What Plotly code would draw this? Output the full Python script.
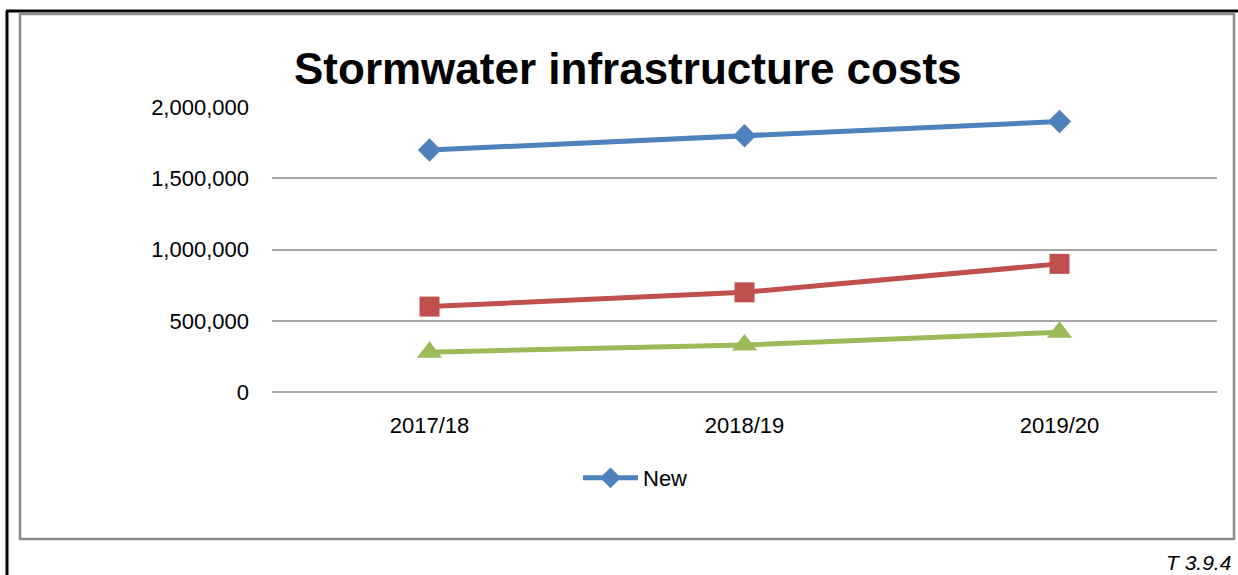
import plotly.graph_objects as go

categories = ["2017/18", "2018/19", "2019/20"]
new_vals = [1700000, 1800000, 1900000]
red_vals = [600000, 700000, 900000]
green_vals = [280000, 330000, 420000]
y_ticks = [0, 500000, 1000000, 1500000, 2000000]
y_ticktext = ["0", "500,000", "1,000,000", "1,500,000", "2,000,000"]

FONT = "Liberation Sans, Arial, sans-serif"
W, H = 1238, 575
L, R, T, B = 272, 21, 107, 183
PW, PH = W - L - R, H - T - B

def px(x):
    return (x - L) / PW

def py(y):
    return (H - B - y) / PH

fig = go.Figure()
fig.add_trace(go.Scatter(x=categories, y=new_vals, name="New", mode="lines+markers",
                         line=dict(color="#4F81BD", width=5),
                         marker=dict(symbol="diamond", size=18, color="#4F81BD")))
fig.add_trace(go.Scatter(x=categories, y=red_vals, name="Renewal", mode="lines+markers",
                         showlegend=False,
                         line=dict(color="#C0504D", width=5),
                         marker=dict(symbol="square", size=20, color="#C0504D")))
fig.add_trace(go.Scatter(x=categories, y=green_vals, name="Repairs", mode="lines+markers",
                         showlegend=False,
                         line=dict(color="#9BBB59", width=5),
                         marker=dict(symbol="triangle-up", size=22, color="#9BBB59")))

shapes = [
    # outer black border (left + top)
    dict(type="line", xref="paper", yref="paper", x0=px(7), x1=px(7), y0=py(11), y1=py(580),
         line=dict(color="black", width=3)),
    dict(type="line", xref="paper", yref="paper", x0=px(6), x1=px(1240), y0=py(11), y1=py(11),
         line=dict(color="black", width=3)),
    # gray chart frame
    dict(type="rect", xref="paper", yref="paper", x0=px(20), x1=px(1234), y0=py(14), y1=py(539),
         line=dict(color="#8c8c8c", width=2.5)),
]

fig.update_layout(
    width=W, height=H,
    margin=dict(l=L, r=R, t=T, b=B, pad=0),
    paper_bgcolor="white", plot_bgcolor="white",
    font=dict(family=FONT, size=22, color="black"),
    shapes=shapes,
    showlegend=True,
    legend=dict(x=px(578), y=py(478), xanchor="left", yanchor="middle",
                font=dict(family=FONT, size=22, color="black"),
                bgcolor="rgba(0,0,0,0)", itemwidth=55),
    xaxis=dict(range=[-0.5, 2.5], showgrid=False, showline=False, zeroline=False,
               ticks="", ticklabelstandoff=18, tickfont=dict(family=FONT, size=22)),
    yaxis=dict(range=[0, 2002000], tickvals=y_ticks, ticktext=y_ticktext,
               showgrid=True, gridcolor="#a6a6a6", gridwidth=2,
               zeroline=True, zerolinecolor="#a6a6a6", zerolinewidth=2,
               showline=False, ticks="", ticklabelstandoff=22,
               tickfont=dict(family=FONT, size=22)),
    annotations=[
        dict(text="<b>Stormwater infrastructure costs</b>", xref="paper", yref="paper",
             x=px(628), y=py(68), xanchor="center", yanchor="middle", showarrow=False,
             font=dict(family=FONT, size=44, color="black")),
        dict(text="<i>T 3.9.4</i>", xref="paper", yref="paper",
             x=px(1233), y=py(562), xanchor="right", yanchor="middle", showarrow=False,
             font=dict(family=FONT, size=21, color="black")),
    ],
)

fig.write_html("out.html", config={"displayModeBar": False},
               post_script="document.body.style.margin='0';document.body.style.overflow='hidden';")
